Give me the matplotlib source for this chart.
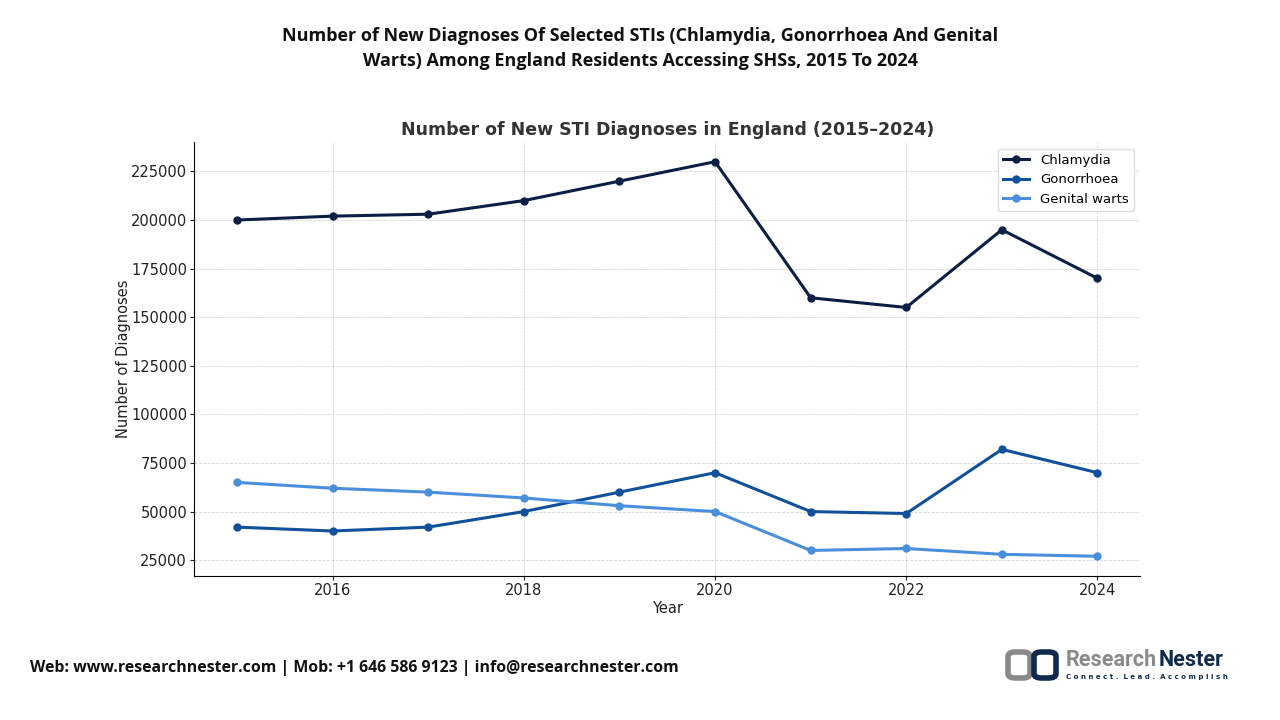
import matplotlib.pyplot as plt
from matplotlib.patches import FancyBboxPatch

plt.rcParams["font.family"] = "sans-serif"
plt.rcParams["font.sans-serif"] = ["DejaVu Sans"]

years = [2015, 2016, 2017, 2018, 2019, 2020, 2021, 2022, 2023, 2024]
chlamydia = [200000, 202000, 203000, 210000, 220000, 230000, 160000, 155000, 195000, 170000]
gonorrhoea = [42000, 40000, 42000, 50000, 60000, 70000, 50000, 49000, 82000, 70000]
genital_warts = [65000, 62000, 60000, 57000, 53000, 50000, 30000, 31000, 28000, 27000]

series = [
    ("Chlamydia", chlamydia, "#0b1f45"),
    ("Gonorrhoea", gonorrhoea, "#11509a"),
    ("Genital warts", genital_warts, "#4a8fdc"),
]

fig = plt.figure(figsize=(12.8, 7.2), dpi=100)
ax = fig.add_axes([0.1516, 0.2, 0.7394, 0.6028])

for name, values, color in series:
    ax.plot(years, values, marker="o", markersize=5, linewidth=2.2, color=color, label=name)

ax.set_title("Number of New STI Diagnoses in England (2015–2024)",
             fontsize=12.5, fontweight="bold", color="#333333", pad=5)
ax.set_xlabel("Year", fontsize=10.5, color="#222222", labelpad=2)
ax.set_ylabel("Number of Diagnoses", fontsize=10.5, color="#222222", labelpad=0)
ax.set_xticks([2016, 2018, 2020, 2022, 2024])
ax.set_yticks(range(25000, 225001, 25000))
ax.tick_params(labelsize=10.5, colors="#222222", length=3, pad=2)
ax.grid(True, linestyle="--", linewidth=0.6, color="#cccccc", alpha=0.8)
ax.spines["top"].set_visible(False)
ax.spines["right"].set_visible(False)
ax.legend(loc="upper right", fontsize=9.5, framealpha=1, edgecolor="#dddddd")

fig.text(0.5, 0.962,
         "Number of New Diagnoses Of Selected STIs (Chlamydia, Gonorrhoea And Genital\n"
         "Warts) Among England Residents Accessing SHSs, 2015 To 2024",
         ha="center", va="top", fontsize=13, fontweight="bold",
         family="Open Sans", linespacing=1.45, color="#111111")

fig.text(0.0235, 0.072,
         "Web: www.researchnester.com | Mob: +1 646 586 9123 | info@researchnester.com",
         ha="left", va="center", fontsize=11.4, fontweight="bold",
         family="Open Sans", color="#111111")

# logo
fig.patches.append(FancyBboxPatch((1008 / 1280, 1 - 678 / 720), 22 / 1280, 26 / 720,
                                  boxstyle="round,pad=0,rounding_size=0.006",
                                  transform=fig.transFigure, facecolor="none",
                                  edgecolor="#8a8a8a", linewidth=4))
fig.patches.append(FancyBboxPatch((1034 / 1280, 1 - 678 / 720), 22 / 1280, 26 / 720,
                                  boxstyle="round,pad=0,rounding_size=0.006",
                                  transform=fig.transFigure, facecolor="none",
                                  edgecolor="#0f2a4a", linewidth=4))
fig.text(1066 / 1280, 1 - 660 / 720, "Research", ha="left", va="center",
         fontsize=15.5, fontweight="bold", color="#8a8a8a", family="Roboto")
fig.text(1224 / 1280, 1 - 660 / 720, "Nester", ha="right", va="center",
         fontsize=15.5, fontweight="bold", color="#0f2a4a", family="Roboto")
fig.text(1066 / 1280, 1 - 677 / 720, "C o n n e c t .  L e a d .  A c c o m p l i s h",
         ha="left", va="center", fontsize=5, fontweight="bold", color="#0f2a4a")

fig.savefig("out.png", dpi=100)
